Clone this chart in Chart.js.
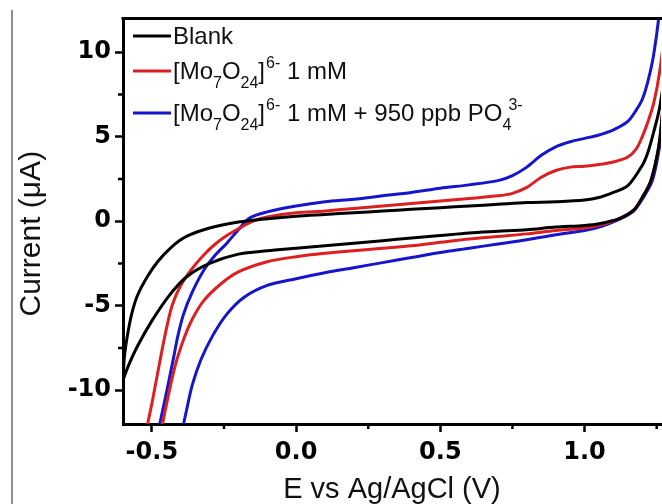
<!DOCTYPE html>
<html>
<head>
<meta charset="utf-8">
<script src="https://cdn.jsdelivr.net/npm/chart.js@4.4.0/dist/chart.umd.min.js"></script>
<style>
  html, body { margin: 0; padding: 0; background: #fff; }
  canvas { display: block; }
</style>
</head>
<body>
<canvas id="cv" width="662" height="504"></canvas>
<script>
// cyclic voltammograms: potential (V) and current (uA),
// forward sweep first, then the return sweep
const blankE = [-0.60, -0.595, -0.585, -0.57, -0.55, -0.52, -0.48, -0.43, -0.38, -0.30, -0.20, -0.10, 0.00, 0.10, 0.20, 0.30, 0.40, 0.50, 0.60, 0.70, 0.80, 0.90, 1.00, 1.05, 1.10, 1.15, 1.20, 1.22, 1.24, 1.26, 1.30,
  1.27, 1.257, 1.23, 1.20, 1.17, 1.12, 1.05, 1.00, 0.90, 0.80, 0.70, 0.60, 0.50, 0.40, 0.30, 0.20, 0.10, 0.00, -0.10, -0.20, -0.30, -0.38, -0.44, -0.50, -0.55, -0.58, -0.60];
const blankI = [-9.4, -8.0, -6.8, -5.5, -4.4, -3.4, -2.4, -1.5, -0.9, -0.4, -0.05, 0.15, 0.3, 0.4, 0.5, 0.6, 0.7, 0.8, 0.9, 1.0, 1.1, 1.15, 1.25, 1.4, 1.7, 2.1, 3.3, 4.1, 5.3, 6.7, 11.0,
  6.4, 4.4, 2.4, 1.4, 0.65, 0.15, -0.15, -0.25, -0.35, -0.5, -0.6, -0.7, -0.85, -1.0, -1.15, -1.3, -1.45, -1.6, -1.75, -1.95, -2.5, -3.3, -4.4, -5.9, -7.4, -8.5, -9.4];

const moE = [-0.53, -0.517, -0.50, -0.48, -0.455, -0.43, -0.40, -0.36, -0.32, -0.28, -0.24, -0.20, -0.15, -0.10, 0.00, 0.10, 0.20, 0.30, 0.40, 0.50, 0.60, 0.70, 0.75, 0.80, 0.85, 0.90, 0.95, 1.00, 1.05, 1.10, 1.15, 1.18, 1.20, 1.22, 1.24, 1.26, 1.30,
  1.27, 1.257, 1.23, 1.20, 1.17, 1.12, 1.05, 1.00, 0.90, 0.80, 0.70, 0.60, 0.50, 0.40, 0.30, 0.20, 0.10, 0.00, -0.10, -0.20, -0.26, -0.32, -0.36, -0.39, -0.42, -0.45, -0.48];
const moI = [-13.5, -12.2, -10.8, -9.0, -6.8, -5.0, -3.8, -2.8, -2.0, -1.35, -0.85, -0.45, 0.0, 0.25, 0.5, 0.6, 0.75, 0.9, 1.05, 1.2, 1.35, 1.5, 1.65, 2.0, 2.6, 3.0, 3.2, 3.25, 3.35, 3.5, 3.8, 4.3, 5.0, 5.9, 7.0, 8.8, 14.0,
  6.4, 4.4, 2.4, 1.4, 0.65, 0.15, -0.25, -0.4, -0.55, -0.75, -0.9, -1.05, -1.25, -1.45, -1.6, -1.75, -1.9, -2.1, -2.4, -3.0, -3.7, -4.7, -5.8, -7.0, -8.6, -10.9, -13.5];

const poE = [-0.49, -0.479, -0.46, -0.444, -0.425, -0.41, -0.39, -0.36, -0.32, -0.28, -0.24, -0.20, -0.16, -0.10, 0.00, 0.10, 0.20, 0.30, 0.40, 0.50, 0.60, 0.70, 0.75, 0.80, 0.85, 0.90, 0.95, 1.00, 1.05, 1.10, 1.15, 1.18, 1.20, 1.22, 1.24, 1.26, 1.30,
  1.275, 1.26, 1.235, 1.20, 1.17, 1.12, 1.06, 1.00, 0.90, 0.80, 0.70, 0.60, 0.50, 0.40, 0.30, 0.20, 0.10, 0.00, -0.10, -0.18, -0.24, -0.29, -0.33, -0.36, -0.38, -0.40];
const poI = [-13.5, -12.5, -11.0, -9.7, -8.1, -6.8, -5.5, -4.2, -2.9, -2.0, -1.3, -0.5, 0.2, 0.55, 0.9, 1.15, 1.3, 1.5, 1.7, 1.95, 2.15, 2.4, 2.7, 3.2, 3.9, 4.4, 4.7, 4.9, 5.1, 5.4, 5.9, 6.6, 7.2, 8.3, 9.9, 12.5, 20.0,
  6.4, 4.4, 2.4, 1.3, 0.6, 0.1, -0.3, -0.55, -0.8, -1.1, -1.35, -1.6, -1.85, -2.15, -2.45, -2.75, -3.05, -3.4, -3.8, -4.5, -5.5, -6.8, -8.2, -9.7, -11.2, -12.8];

const xTicks = [-0.5, 0.0, 0.5, 1.0];
const xMinor = [-0.25, 0.25, 0.75, 1.25];
const yTicks = [-10, -5, 0, 5, 10];
const yMinor = [-7.5, -2.5, 2.5, 7.5];

// legend text pieces: [text, kind]
const legendBlank = [['Blank', '']];
const legendMo = [['[Mo', ''], ['7', 'sub'], ['O', ''], ['24', 'sub'], [']', ''], ['6-', 'sup'], [' 1 mM', '']];
const legendPo = legendMo.concat([[' + 950 ppb PO', ''], ['4', 'sub'], ['3-', 'sup']]);

const BLACK = '#000000';
const RED = '#dd1f1f';
const BLUE = '#1515cc';

function pts(E, I) {
  return E.map((e, i) => ({ x: e, y: I[i] }));
}

function curve(data, color) {
  return {
    data: data,
    borderColor: color,
    borderWidth: 3,
    showLine: true,
    pointRadius: 0,
    tension: 0.3,
    clip: 0
  };
}

const frame = {
  id: 'frame',
  afterDraw(chart) {
    const ctx = chart.ctx;
    const a = chart.chartArea;
    const sx = chart.scales.x, sy = chart.scales.y;
    ctx.save();
    ctx.strokeStyle = '#000';
    ctx.lineWidth = 3;
    ctx.beginPath();
    ctx.moveTo(a.left - 1.5, a.top);
    ctx.lineTo(a.right + 1, a.top);
    ctx.stroke();
    // minor ticks
    ctx.lineWidth = 2.5;
    ctx.beginPath();
    xMinor.forEach(v => {
      const px = sx.getPixelForValue(v);
      ctx.moveTo(px, a.bottom);
      ctx.lineTo(px, a.bottom + 5);
    });
    yMinor.forEach(v => {
      const py = sy.getPixelForValue(v);
      ctx.moveTo(a.left - 5, py);
      ctx.lineTo(a.left, py);
    });
    ctx.stroke();
    // grey margin line of the scanned page
    ctx.strokeStyle = '#6a6a6a';
    ctx.lineWidth = 1.5;
    ctx.beginPath();
    ctx.moveTo(12, 10);
    ctx.lineTo(12, 504);
    ctx.stroke();
    ctx.restore();
  }
};

function drawLabel(ctx, parts, x, y) {
  let subX = null;
  parts.forEach(([t, kind]) => {
    if (kind === 'sub') {
      ctx.font = '16px "Liberation Sans", Arial, sans-serif';
      ctx.fillText(t, x, y + 9);
      subX = x;
      x += ctx.measureText(t).width;
    } else if (kind === 'sup') {
      ctx.font = '16px "Liberation Sans", Arial, sans-serif';
      const sx = subX !== null && parts.indexOf(parts.find(p => p[0] === t)) > 0 && t === '3-' ? subX + 6 : x + 1;
      ctx.fillText(t, sx, y - 11);
      x = Math.max(x, sx + ctx.measureText(t).width);
      subX = null;
    } else {
      ctx.font = '24px "Liberation Sans", Arial, sans-serif';
      ctx.fillText(t, x, y);
      x += ctx.measureText(t).width;
      subX = null;
    }
  });
}

const legend = {
  id: 'cvLegend',
  afterDatasetsDraw(chart) {
    const ctx = chart.ctx;
    const rows = [
      { parts: legendBlank, color: BLACK, y: 36 },
      { parts: legendMo, color: RED, y: 71 },
      { parts: legendPo, color: BLUE, y: 113 }
    ];
    ctx.save();
    ctx.textBaseline = 'alphabetic';
    ctx.fillStyle = '#111';
    rows.forEach(r => {
      ctx.strokeStyle = r.color;
      ctx.lineWidth = 3;
      ctx.beginPath();
      ctx.moveTo(133, r.y);
      ctx.lineTo(171, r.y);
      ctx.stroke();
      drawLabel(ctx, r.parts, 173, r.y + 8);
    });
    ctx.restore();
  }
};

new Chart(document.getElementById('cv'), {
  type: 'scatter',
  data: {
    datasets: [
      curve(pts(blankE, blankI), BLACK),
      curve(pts(moE, moI), RED),
      curve(pts(poE, poI), BLUE)
    ]
  },
  options: {
    responsive: false,
    animation: false,
    devicePixelRatio: 1,
    layout: { padding: { top: 15, right: 1, left: 0, bottom: 0 } },
    plugins: { legend: { display: false }, tooltip: { enabled: false } },
    scales: {
      x: {
        type: 'linear',
        min: -0.6,
        max: 1.265,
        afterFit: s => { s.height = 80; },
        afterBuildTicks: s => { s.ticks = xTicks.map(v => ({ value: v })); },
        border: { display: true, width: 3, color: '#000' },
        grid: { drawOnChartArea: false, tickLength: 8, tickWidth: 2.5, tickColor: '#000' },
        ticks: {
          padding: 6,
          color: '#000',
          font: { family: '"DejaVu Sans"', size: 24, weight: 'bold' },
          callback: v => Number(v).toFixed(1),
          maxRotation: 0
        },
        title: {
          display: true,
          text: 'E vs Ag/AgCl (V)',
          color: '#111',
          font: { family: '"Liberation Sans"', size: 29, lineHeight: 1 },
          padding: { top: 0, bottom: 0 }
        }
      },
      y: {
        type: 'linear',
        min: -12,
        max: 12,
        afterFit: s => { s.width = 123; },
        afterBuildTicks: s => { s.ticks = yTicks.map(v => ({ value: v })); },
        border: { display: true, width: 3, color: '#000' },
        grid: { drawOnChartArea: false, tickLength: 8, tickWidth: 2.5, tickColor: '#000' },
        ticks: {
          padding: 4,
          color: '#000',
          font: { family: '"DejaVu Sans"', size: 24, weight: 'bold' }
        },
        title: {
          display: true,
          text: 'Current (\u03bcA)   ',
          color: '#111',
          font: { family: '"Liberation Sans"', size: 30, lineHeight: 1.2 },
          padding: { top: 14, bottom: 0 }
        }
      }
    }
  },
  plugins: [frame, legend]
});
</script>
</body>
</html>
